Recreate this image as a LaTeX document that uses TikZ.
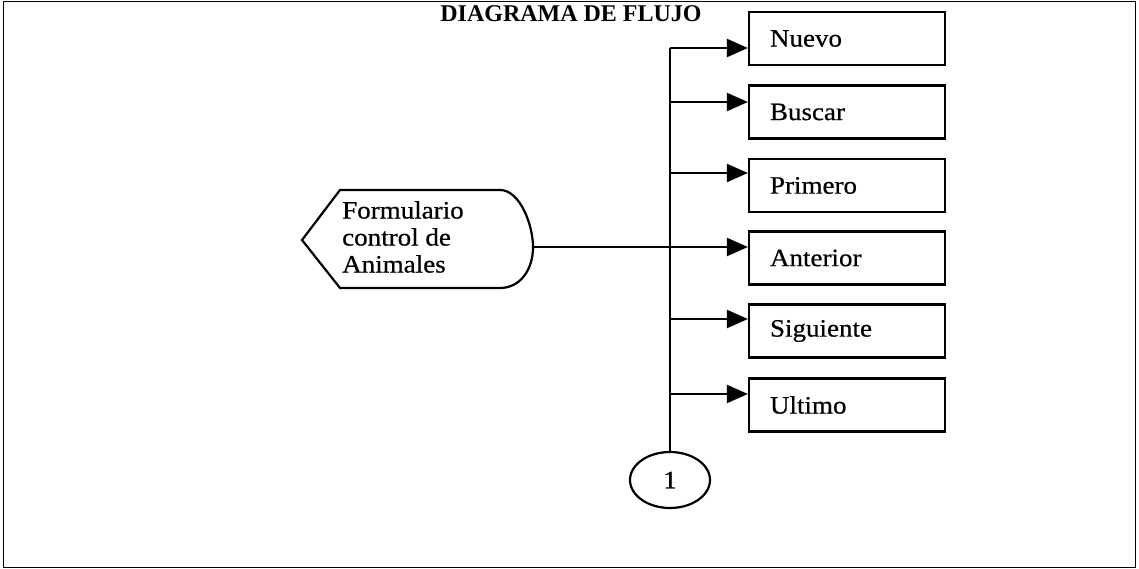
\documentclass[tikz,border=0pt]{standalone}
\usepackage{fontspec}
\setmainfont{Liberation Serif}
\newfontfamily\txtfont[FakeStretch=1.08,FakeBold=0.6]{Liberation Serif}
\usetikzlibrary{shapes.geometric,arrows.meta}
\tikzset{
  txt/.style={font=\txtfont\fontsize{25}{27}\selectfont},
  box/.style={draw, line width=2.2pt, minimum height=53pt, text width=154pt, inner xsep=21pt, inner ysep=0pt, align=left, txt},
  arr/.style={line width=2.2pt, -{Triangle[length=21pt,width=18pt]}},
  ln/.style={line width=2.2pt},
  frame/.style={line width=1pt}
}
\begin{document}
\begin{tikzpicture}[x=1pt,y=-1pt]
\useasboundingbox (0,0) rectangle (1139,569);
\draw[frame] (3,2) rectangle (1135,567);
\node[anchor=base, font=\bfseries\fontsize{24}{27}\selectfont, inner sep=0pt] (title) at (571,22) {DIAGRAMA DE FLUJO};
% boxes
\node[box] (b1) at (847,38.5) {Nuevo};
\node[box] (b2) at (847,112) {Buscar};
\node[box] (b3) at (847,185.5) {Primero};
\node[box] (b4) at (847,258) {Anterior};
\node[box] (b5) at (847,331) {Siguiente};
\node[box] (b6) at (847,405) {Ultimo};
% formulario
\node[anchor=north west, inner sep=0pt, align=left, txt] (form) at (342,201) {Formulario\\control de\\Animales};
\draw[ln] (302,240) -- (340,190) -- (500,190) .. controls (520,190) and (533,225) .. (533,247)
  .. controls (533,270) and (520,288) .. (500,288) -- (340,288) -- cycle;
\coordinate (formR) at (533,247);
% connector
\node[ellipse, draw, line width=2.2pt, minimum width=80pt, minimum height=56pt, inner sep=0pt, txt] (conn) at (670,480) {1};
\coordinate (j1) at (670,48);
\coordinate (j2) at (670,102);
\coordinate (j3) at (670,173);
\coordinate (j5) at (670,319);
\coordinate (j6) at (670,394);
\draw[ln] (j1) -- (conn.north);
\draw[arr] (j1) -- (j1 -| b1.west);
\draw[arr] (j2) -- (j2 -| b2.west);
\draw[arr] (j3) -- (j3 -| b3.west);
\draw[arr] (formR) -- (formR -| b4.west);
\draw[arr] (j5) -- (j5 -| b5.west);
\draw[arr] (j6) -- (j6 -| b6.west);
\end{tikzpicture}
\end{document}
